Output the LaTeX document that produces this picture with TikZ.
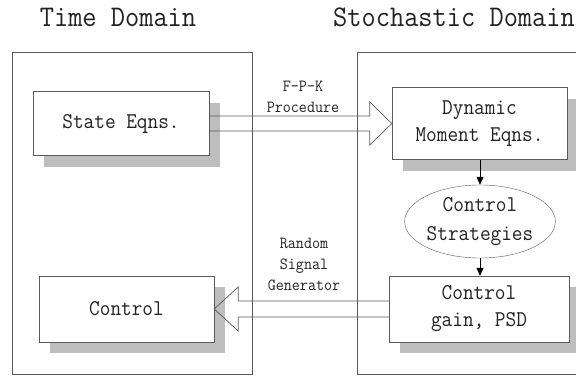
\documentclass[tikz,border=0pt]{standalone}
\usepackage{fontspec}
\newfontfamily\courfont{Latin Modern Mono}[FakeStretch=0.92]
\usetikzlibrary{calc,shapes.geometric,shadows,arrows.meta}
\definecolor{edgegray}{HTML}{5A5A5A}
\definecolor{shadegray}{HTML}{BEBEBE}
\definecolor{inkgray}{HTML}{222222}
\tikzset{
	block/.style={draw=edgegray, fill=white, align=center, inner sep=0pt, text=inkgray,
			font=\courfont\fontsize{22.5}{27}\selectfont,
			drop shadow={shadow xshift=11pt, shadow yshift=-11pt, fill=shadegray, opacity=1}},
	oval/.style={ellipse, draw=edgegray, align=center, inner sep=0pt, text=inkgray,
			minimum width=126pt, minimum height=73pt,
			font=\courfont\fontsize{22.5}{29}\selectfont},
	note/.style={align=center, text=inkgray, font=\courfont\fontsize{17}{21}\selectfont},
	title/.style={text=inkgray, font=\courfont\fontsize{30}{32}\selectfont},
	panel/.style={draw=edgegray, line width=0.8pt},
	fat/.style={draw=edgegray, line width=0.7pt, line join=miter},
	thin/.style={draw=black, line width=0.8pt, -{Triangle[length=8pt,width=7pt]}}
}

\begin{document}
\begin{tikzpicture}[x=1pt,y=-1pt]
	\useasboundingbox (0,0) rectangle (576,376);

	% the two domains
	\draw[panel] (12,52) rectangle (252,374);
	\draw[panel] (357,52) rectangle (600,374);
	\node[title] (timettl) at (118,17) {Time Domain};
	\node[title] (stochttl) at (454,17) {Stochastic Domain};

	% blocks
	\node[block, minimum width=176pt, minimum height=64pt] (state) at (121,123.5) {State Eqns.};
	\node[block, minimum width=175pt, minimum height=72pt] (moment) at (479.5,123.5) {Dynamic\\Moment Eqns.};
	\node[oval] (strategy) at (480,221.5) {Control\\Strategies};
	\node[block, minimum width=180pt, minimum height=66pt] (gain) at (479,309) {Control\\gain, PSD};
	\node[block, minimum width=175pt, minimum height=66pt] (control) at (126.5,309) {Control};

	% labels on the wide arrows
	\node[note] (fpk) at (303,96.5) {F-P-K\\Procedure};
	\node[note] (rsg) at (304,264) {Random\\Signal\\Generator};

	% wide arrows across the domains
	\draw[fat] ($(state.east)+(0,-7.5)$) -- ($(moment.west)+(-22,-7.5)$)
		-- ($(moment.west)+(-22,-21.5)$) -- (moment.west)
		-- ($(moment.west)+(-22,21.5)$) -- ($(moment.west)+(-22,7.5)$)
		-- ($(state.east)+(0,7.5)$);
	\draw[fat] ($(gain.west)+(0,-8)$) -- ($(control.east)+(24,-8)$)
		-- ($(control.east)+(24,-22)$) -- (control.east)
		-- ($(control.east)+(24,22)$) -- ($(control.east)+(24,8)$)
		-- ($(gain.west)+(0,8)$);

	% thin arrows in the stochastic domain
	\draw[thin] (moment.south -| strategy.north) -- (strategy.north);
	\draw[thin] (strategy.south) -- (strategy.south |- gain.north);
\end{tikzpicture}
\end{document}
